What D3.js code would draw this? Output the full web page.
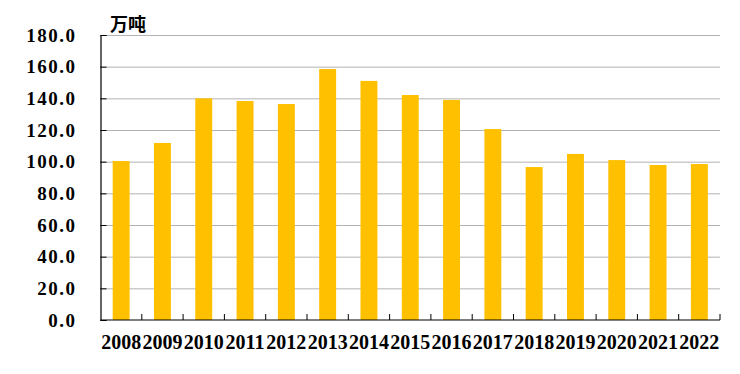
<!DOCTYPE html>
<html>
<head>
<meta charset="utf-8">
<script src="https://cdn.jsdelivr.net/npm/d3@7"></script>
<style>
  body { margin: 0; background: #fff; }
  .grid line { stroke: #666; stroke-dasharray: 1,1; }
  .grid path { display: none; }
  text.lbl { font-family: "Liberation Serif", "DejaVu Serif", serif; font-weight: bold; fill: #000; }
</style>
</head>
<body>
<div id="chart"></div>
<script>
// 年份與產量（萬噸）
const years = ['2008','2009','2010','2011','2012','2013','2014','2015','2016','2017','2018','2019','2020','2021','2022'];
const output = [100.4, 111.8, 140.0, 138.3, 136.4, 158.5, 151.0, 142.1, 139.0, 120.6, 96.6, 104.9, 101.0, 97.9, 98.5];
const yTicks = [0, 20, 40, 60, 80, 100, 120, 140, 160, 180];
const unitLabel = '万吨';

const W = 740, H = 374;
const margin = { top: 35, right: 20, bottom: 54, left: 100.5 };
const width = W - margin.left - margin.right;
const height = H - margin.top - margin.bottom;

const svg = d3.select('#chart').append('svg')
  .attr('width', W).attr('height', H);
const g = svg.append('g').attr('transform', `translate(${margin.left},${margin.top})`);

const x = d3.scaleBand().domain(years).range([0, width]).paddingInner(0.59).paddingOuter(0.295);
const xb = d3.scaleBand().domain(years).range([0, width]);
const y = d3.scaleLinear().domain([0, 180]).range([height, 0]);

// 格線
g.append('g').attr('class', 'grid')
  .call(d3.axisLeft(y).tickValues(yTicks.slice(1)).tickSize(-width).tickFormat(''));

// 柱子
g.selectAll('rect.bar').data(years).enter().append('rect')
  .attr('class', 'bar')
  .attr('x', d => x(d))
  .attr('width', x.bandwidth())
  .attr('y', (d, i) => y(output[i]))
  .attr('height', (d, i) => height - y(output[i]))
  .attr('fill', '#FFC000');

// Y 軸
const yAxis = g.append('g')
  .call(d3.axisRight(y).tickValues(yTicks).tickSize(6).tickFormat(''));
yAxis.select('.domain').attr('stroke', '#000').attr('stroke-width', 1.2);
yAxis.selectAll('.tick line').attr('stroke', '#000');

g.selectAll('text.ylab').data(yTicks).enter().append('text')
  .attr('class', 'lbl')
  .attr('x', -24)
  .attr('y', d => y(d) + 6.5)
  .attr('text-anchor', 'end')
  .attr('font-size', 19)
  .attr('letter-spacing', 1.5)
  .text(d => d.toFixed(1));

// X 軸
const xAxis = g.append('g').attr('transform', `translate(0,${height})`);
xAxis.append('line').attr('x1', 0).attr('x2', width).attr('stroke', '#000').attr('stroke-width', 1.2);
xAxis.selectAll('line.tk').data(years).enter().append('line')
  .attr('class', 'tk')
  .attr('x1', d => xb(d) + xb.bandwidth()).attr('x2', d => xb(d) + xb.bandwidth())
  .attr('y1', 0).attr('y2', -6)
  .attr('stroke', '#000');

xAxis.selectAll('text.xlab').data(years).enter().append('text')
  .attr('class', 'lbl')
  .attr('x', d => xb(d) + xb.bandwidth() / 2)
  .attr('y', 29)
  .attr('text-anchor', 'middle')
  .attr('font-size', 20)
  .text(d => d);

// 單位
svg.append('text')
  .attr('x', 110).attr('y', 31)
  .attr('font-family', '"Noto Sans CJK SC", sans-serif')
  .attr('font-weight', 'bold')
  .attr('font-size', 18)
  .text(unitLabel);
</script>
</body>
</html>
